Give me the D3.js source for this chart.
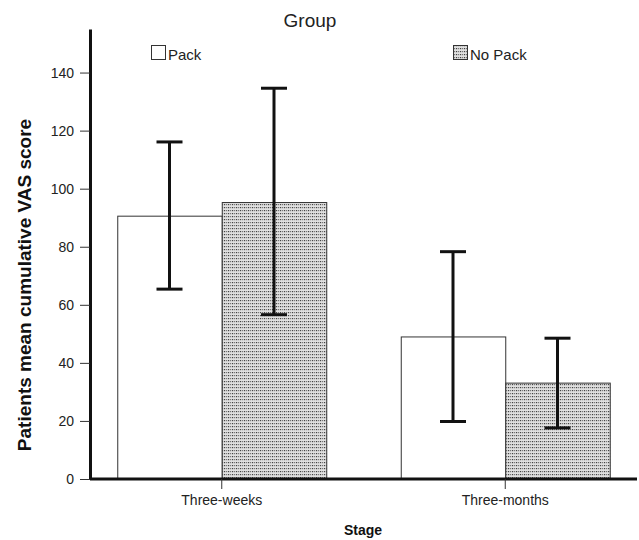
<!DOCTYPE html>
<html><head><meta charset="utf-8">
<script src="https://cdn.jsdelivr.net/npm/d3@7"></script>
<style>body{margin:0;background:#fff}svg{display:block}text{font-family:"Liberation Sans",Arial,sans-serif}</style>
</head><body>
<svg id="c" width="639" height="540"></svg>
<script>
const stages = ["Three-weeks", "Three-months"];
const groups = ["Pack", "No Pack"];
const means = { "Pack": [90.7, 49.1], "No Pack": [95.4, 33.2] };
const upper = { "Pack": [116.1, 78.3], "No Pack": [134.6, 48.5] };
const lower = { "Pack": [65.4, 19.8], "No Pack": [56.6, 17.6] };
const yTicks = [0, 20, 40, 60, 80, 100, 120, 140];

const svg = d3.select("#c");
const defs = svg.append("defs");
const pat = defs.append("pattern").attr("id","dots").attr("patternUnits","userSpaceOnUse")
  .attr("width",4).attr("height",3);
pat.append("rect").attr("width",4).attr("height",3).attr("fill","#e0e0e0");
pat.append("rect").attr("x",0).attr("y",0).attr("width",1.2).attr("height",1.2).attr("fill","#444");
pat.append("rect").attr("x",2).attr("y",0).attr("width",1.2).attr("height",1.2).attr("fill","#777");

const y = d3.scaleLinear().domain([0,155]).range([479, 29]);
const x = d3.scaleBand().domain(stages).range([80, 647]).padding(0);
const inner = d3.scaleBand().domain(groups).range([0, 209]);
const off = (x.bandwidth() - 209)/2;
const fills = { "Pack": "#fff", "No Pack": "url(#dots)" };

const data = [];
groups.forEach(g => stages.forEach((s,i) => data.push({g, s, m: means[g][i], hi: upper[g][i], lo: lower[g][i]})));

svg.selectAll("rect.bar").data(data).join("rect").attr("class","bar")
  .attr("x", d => x(d.s) + off + inner(d.g) + 0.5)
  .attr("width", inner.bandwidth())
  .attr("y", d => y(d.m) + 0.5)
  .attr("height", d => y(0) - y(d.m))
  .attr("fill", d => fills[d.g]).attr("stroke", "#333").attr("stroke-width", 1);

const eb = svg.append("g").attr("stroke","#111").attr("stroke-width",3);
data.forEach(d => {
  const cx = x(d.s) + off + inner(d.g) + inner.bandwidth()/2;
  eb.append("line").attr("x1",cx).attr("x2",cx).attr("y1",y(d.hi)).attr("y2",y(d.lo));
  eb.append("line").attr("x1",cx-13).attr("x2",cx+13).attr("y1",y(d.hi)).attr("y2",y(d.hi));
  eb.append("line").attr("x1",cx-13).attr("x2",cx+13).attr("y1",y(d.lo)).attr("y2",y(d.lo));
});

// y axis
const ya = svg.append("g").attr("transform","translate(90,0)")
  .call(d3.axisLeft(y).tickValues(yTicks).tickSize(10).tickPadding(6).tickSizeOuter(0));
ya.select(".domain").attr("stroke","#111").attr("stroke-width",3);
ya.selectAll(".tick line").attr("stroke","#333");
ya.selectAll(".tick text").attr("font-size",14).attr("fill","#222").attr("font-family","Liberation Sans, Arial, sans-serif");

// x axis
const xa = svg.append("g").attr("transform","translate(0,479)")
  .call(d3.axisBottom(x).tickSize(10).tickPadding(6).tickSizeOuter(0));
xa.select(".domain").attr("d","M90,0H637").attr("stroke","#111").attr("stroke-width",3);
xa.selectAll(".tick line").attr("stroke","#333");
xa.selectAll(".tick text").attr("font-size",14).attr("fill","#222").attr("font-family","Liberation Sans, Arial, sans-serif");

// titles
svg.append("text").attr("x",310).attr("y",27).attr("text-anchor","middle").attr("font-size",19).attr("fill","#222").text("Group");
svg.append("text").attr("x",363).attr("y",535).attr("text-anchor","middle").attr("font-size",14).attr("font-weight","bold").attr("fill","#111").text("Stage");
svg.append("text").attr("transform","translate(31,285) rotate(-90)").attr("text-anchor","middle")
  .attr("font-size",19).attr("font-weight","bold").attr("fill","#111").text("Patients mean cumulative VAS score");

// legend
const legX = { "Pack": 151, "No Pack": 453 };
groups.forEach(g => {
  svg.append("rect").attr("x",legX[g]+0.5).attr("y",45.5).attr("width",14).attr("height",14)
    .attr("fill",fills[g]).attr("stroke","#333");
  svg.append("text").attr("x",legX[g]+17).attr("y",60).attr("font-size",15).attr("fill","#222").text(g);
});
</script>
</body></html>
